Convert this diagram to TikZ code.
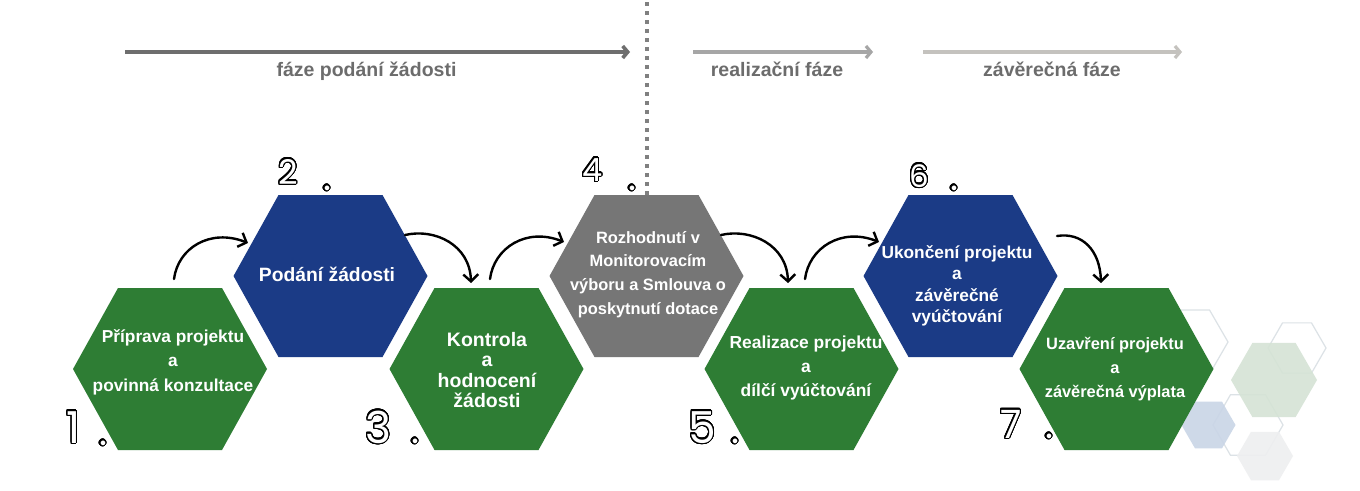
\documentclass[tikz,border=0pt]{standalone}
\usepackage{fontspec}
\setmainfont{Liberation Sans}
\newfontfamily\numfont{Poppins}
\usepackage[copies]{contour}
\contourlength{1.2pt}
\contournumber{32}
\usetikzlibrary{arrows.meta,calc}
\definecolor{hgreen}{RGB}{46,125,52}
\definecolor{hblue}{RGB}{27,59,134}
\definecolor{hgray}{RGB}{118,118,118}
\definecolor{phA}{RGB}{110,110,110}
\definecolor{phB}{RGB}{166,166,166}
\definecolor{phC}{RGB}{196,194,190}
\definecolor{lbl}{RGB}{108,108,108}
\definecolor{dline}{RGB}{128,128,128}
\definecolor{decoline}{RGB}{220,226,230}
\definecolor{decogreen}{RGB}{213,227,213}
\definecolor{decoblue}{RGB}{201,213,230}
\definecolor{decogray}{RGB}{238,239,240}
\tikzset{
  mainhex/.pic={\path[pic actions] (-97,0) -- (-52,-81) -- (52,-81) -- (97,0) -- (52,81) -- (-52,81) -- cycle;},
  dhex/.pic={\path[pic actions] (-#1,0) -- (-#1/2,-0.866*#1) -- (#1/2,-0.866*#1) -- (#1,0) -- (#1/2,0.866*#1) -- (-#1/2,0.866*#1) -- cycle;},
  hextext/.style={text=white,align=center,inner sep=0pt},
  curvearrow/.style={line width=2.4pt,-{Straight Barb[length=7pt,width=15pt]},line cap=round},
  phasearrow/.style={line width=#1,-{Straight Barb[length=5pt,width=12pt]}},
  phaselabel/.style={text=lbl,font=\bfseries\fontsize{19.5}{22}\selectfont,anchor=base,inner sep=0pt},
  numtext/.style={text=white,inner sep=0pt,anchor=base west},
  dottext/.style={text=white,inner sep=0pt,anchor=base,font=\numfont\fontsize{38}{38}\selectfont},
  dotline/.style={dline,line width=4pt,dash pattern=on 4pt off 5pt},
  decooutline/.style={draw=decoline,line width=1.2pt},
}
\begin{document}
\begin{tikzpicture}[x=1pt,y=-1pt]
\fill[white] (0,0) rectangle (1360,490);
\useasboundingbox (0,0) rectangle (1360,490);

% phase arrows
\coordinate (pa1s) at (125,52); \coordinate (pa1e) at (630,52);
\coordinate (pa2s) at (693,52); \coordinate (pa2e) at (873,52);
\coordinate (pa3s) at (923,52); \coordinate (pa3e) at (1182,52);
\draw[phasearrow=3.6pt,phA] (pa1s) -- (pa1e);
\draw[phasearrow=3.2pt,phB] (pa2s) -- (pa2e);
\draw[phasearrow=3.2pt,phC] (pa3s) -- (pa3e);
\node[phaselabel] (l1) at (366.5,76) {fáze podání žádosti};
\node[phaselabel] (l2) at (777,76) {realizační fáze};
\node[phaselabel] (l3) at (1052,76) {závěrečná fáze};

% dotted separator
\coordinate (dtop) at (646.5,2);
\coordinate (dbot) at (646.5,195);
\draw[dotline] (dtop) -- (dbot);

% decorative hexagons
\pic[decooutline] at (1191,342) {dhex=37};
\pic[decooutline] at (1297,348) {dhex=29};
\pic[decooutline] at (1248,425) {dhex=35};
\pic[fill=decogreen,fill opacity=0.9] at (1274,380) {dhex=43};
\pic[fill=decoblue,fill opacity=0.9] at (1208.5,425) {dhex=27};
\pic[fill=decogray,fill opacity=0.9] at (1265,456) {dhex=28};

% main hexagons
\pic[fill=hgreen] at (170,369) {mainhex};
\pic[fill=hblue] at (330.5,276) {mainhex};
\pic[fill=hgreen] at (486.5,369) {mainhex};
\pic[fill=hgray] at (646.5,276) {mainhex};
\pic[fill=hgreen] at (801.5,369) {mainhex};
\pic[fill=hblue] at (960.5,276) {mainhex};
\pic[fill=hgreen] at (1116.5,369) {mainhex};

% texts
\node[hextext,font=\bfseries\fontsize{17.3}{24.5}\selectfont] (t1) at (173,362) {Příprava projektu\\a\\povinná konzultace};
\node[hextext,font=\bfseries\fontsize{19.3}{23}\selectfont] (t2) at (327,274) {Podání žádosti};
\node[hextext,font=\bfseries\fontsize{19.5}{20.5}\selectfont] (t3) at (487,370) {Kontrola\\a\\hodnocení\\žádosti};
\node[hextext,font=\bfseries\fontsize{16.4}{23.7}\selectfont] (t4) at (648,274.5) {Rozhodnutí v\\Monitorovacím\\výboru a Smlouva o\\poskytnutí dotace};
\node[hextext,font=\bfseries\fontsize{17.4}{24}\selectfont] (t5) at (806,368) {Realizace projektu\\a\\dílčí vyúčtování};
\node[hextext,font=\bfseries\fontsize{17.3}{21.5}\selectfont] (t6) at (957,286) {Ukončení projektu\\a\\závěrečné\\vyúčtování};
\node[hextext,font=\bfseries\fontsize{16.4}{24}\selectfont] (t7) at (1115,369) {Uzavření projektu\\a\\závěrečná výplata};

% numbers
\node[numtext,font=\numfont\fontsize{44}{44}\selectfont] (n1) at (66,443) {\contour{black}{1}};
\node[dottext] (d1) at (103,445) {\contour{black}{.}};
\node[numtext,font=\numfont\fontsize{34}{34}\selectfont] (n2) at (278,184) {\contour{black}{2}};
\node[dottext] (d2) at (327,190) {\contour{black}{.}};
\node[numtext,font=\numfont\fontsize{32}{32}\selectfont] (n4) at (582,181) {\contour{black}{4}};
\node[dottext] (d4) at (632,190) {\contour{black}{.}};
\node[numtext,font=\numfont\fontsize{44}{44}\selectfont] (n3) at (365,443) {\contour{black}{3}};
\node[dottext] (d3) at (415,443) {\contour{black}{.}};
\node[numtext,font=\numfont\fontsize{44}{44}\selectfont] (n5) at (688,443) {\contour{black}{5}};
\node[dottext] (d5) at (735,443) {\contour{black}{.}};
\node[numtext,font=\numfont\fontsize{31}{31}\selectfont] (n6) at (909,187) {\contour{black}{6}};
\node[dottext] (d6) at (954,190) {\contour{black}{.}};
\node[numtext,font=\numfont\fontsize{39}{39}\selectfont] (n7) at (1000,438) {\contour{black}{7}};
\node[dottext] (d7) at (1049,438) {\contour{black}{.}};

% curved step arrows
\coordinate (a12s) at (174,279); \coordinate (a12e) at (248,243);
\coordinate (a23s) at (405,235); \coordinate (a23e) at (471,283);
\coordinate (a34s) at (490,279); \coordinate (a34e) at (564,242);
\coordinate (a45s) at (721,235); \coordinate (a45e) at (788,283);
\coordinate (a56s) at (805,279); \coordinate (a56e) at (879,242);
\coordinate (a67s) at (1057,236); \coordinate (a67e) at (1101,283);
\draw[curvearrow] (a12s) .. controls (178,248) and (210,228) .. (a12e);
\draw[curvearrow] (a23s) .. controls (435,228) and (470,245) .. (a23e);
\draw[curvearrow] (a34s) .. controls (494,248) and (526,227) .. (a34e);
\draw[curvearrow] (a45s) .. controls (751,228) and (787,245) .. (a45e);
\draw[curvearrow] (a56s) .. controls (809,248) and (841,227) .. (a56e);
\draw[curvearrow] (a67s) .. controls (1082,232) and (1100,250) .. (a67e);
\end{tikzpicture}
\end{document}
